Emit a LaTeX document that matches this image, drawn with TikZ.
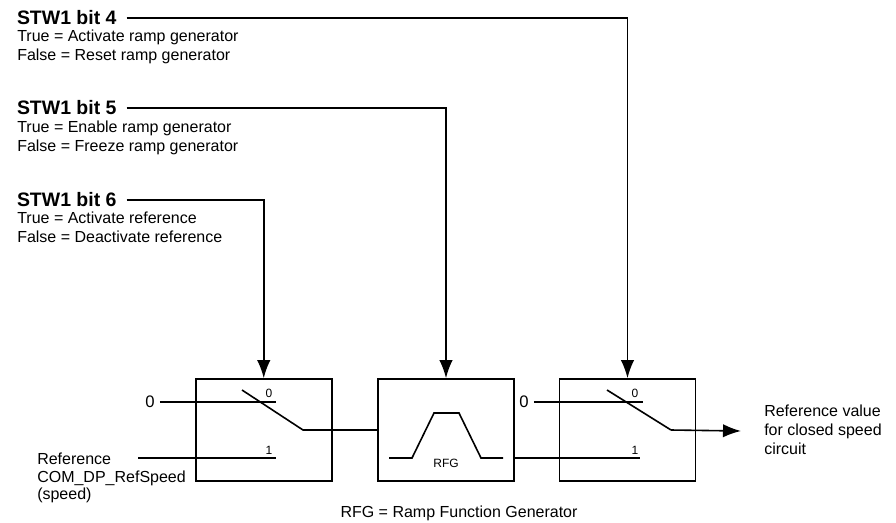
\documentclass[tikz,border=0pt]{standalone}
\usepackage{fontspec}
\setmainfont{Liberation Sans}
\usetikzlibrary{arrows.meta}
\tikzset{
  block/.style={draw,line width=1.2pt,minimum width=102pt,minimum height=76.5pt,inner sep=0pt},
  wire/.style={line width=1.2pt},
  signal/.style={wire,-{Latex[length=13.5pt,width=10pt]}},
  heading/.style={anchor=west,inner sep=0pt,outer sep=7.5pt,font=\bfseries\fontsize{14.6}{16}\selectfont},
  info/.style={anchor=west,inner sep=0pt,align=left,font=\fontsize{12}{14.2}\selectfont},
  tag/.style={inner sep=0pt,font=\fontsize{9}{10}\selectfont},
  level/.style={inner sep=0pt,outer sep=4pt,font=\fontsize{12.5}{14}\selectfont}
}
\begin{document}
\begin{tikzpicture}[x=0.75pt,y=-0.75pt]
\useasboundingbox (0,0) rectangle (896,522);
\node[heading] (bitfour) at (7,18) {STW1 bit 4};
\node[info] (bitfourtext) at (17,46.5) {True = Activate ramp generator\\False = Reset ramp generator};
\node[heading] (bitfive) at (7,108) {STW1 bit 5};
\node[info] (bitfivetext) at (17,137.5) {True = Enable ramp generator\\False = Freeze ramp generator};
\node[heading] (bitsix) at (7,200) {STW1 bit 6};
\node[info] (bitsixtext) at (17,227.5) {True = Activate reference\\False = Deactivate reference};
\node[block] (first) at (263.75,430) {};
\node[block] (ramp) at (446,430) {};
\node[block] (last) at (627.5,430) {};
\draw[signal] (bitfour.east) -| (last.north);
\draw[signal] (bitfive.east) -| (ramp.north);
\draw[signal] (bitsix.east) -| (first.north);
\node[level] (zeroa) at (150,402) {0};
\node[level] (zerob) at (524,402) {0};
\node[tag] (taga) at (269,393) {0};
\node[tag] (tagb) at (269,450) {1};
\node[tag] (tagc) at (635,393) {0};
\node[tag] (tagd) at (635,450) {1};
\node[tag] (rfg) at (446,463.5) {RFG};
\node[info,font=\fontsize{12}{13.2}\selectfont] (refin) at (37,478) {Reference\\COM\_DP\_RefSpeed\\(speed)};
\node[info] (refout) at (764,430) {Reference value\\for closed speed\\circuit};
\node[anchor=base,inner sep=0pt,font=\fontsize{12}{14}\selectfont] (legend) at (459,517) {RFG = Ramp Function Generator};
\coordinate (inend) at (138,458);
\coordinate (aend) at (276,402);
\coordinate (bend) at (276,458);
\coordinate (aup) at (242,390);
\coordinate (apivot) at (303,430);
\coordinate (cend) at (643,402);
\coordinate (dend) at (640,458);
\coordinate (cup) at (607,390);
\coordinate (cpivot) at (671,430);
\coordinate (outend) at (741,431);
\draw[wire] (zeroa.east) -- (aend);
\draw[wire] (inend) -- (bend);
\draw[wire] (aup) -- (apivot) -- (ramp.west);
\draw[wire] (389,458) -- (412,458) -- (434,413) -- (459,413) -- (481,458) -- (503,458);
\draw[wire] (zerob.east) -- (cend);
\draw[wire] (ramp.east |- dend) -- (dend);
\draw[wire] (cup) -- (cpivot);
\draw[signal] (cpivot) -- (outend);
\end{tikzpicture}
\end{document}
